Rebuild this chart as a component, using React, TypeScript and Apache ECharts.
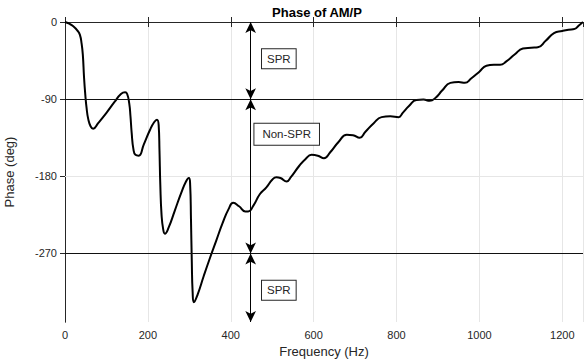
import React, { useEffect, useRef } from "react";
import * as echarts from "echarts";

// Curve (frequency in Hz, phase in degrees)
const freq = [
  0, 10, 20, 30, 36, 40, 43, 46, 49, 52, 56, 62, 68, 80, 100, 120, 135, 145, 150, 155,
  158, 161, 165, 170, 178, 190, 205, 215, 222, 226, 228, 230, 233, 237, 241, 250, 265, 280, 292, 299,
  302, 304, 306, 308, 311, 320, 335, 350, 365, 380, 395, 406, 420, 435, 442, 455, 470, 486, 500, 510,
  520, 535, 545, 565, 580, 595, 610, 625, 640, 660, 680, 695, 711, 725, 745, 764, 785, 805, 815, 830,
  848, 865, 880, 895, 910, 930, 950, 965, 980, 1000, 1017, 1035, 1050, 1065, 1085, 1105, 1125, 1141, 1160, 1180,
  1200, 1215, 1230, 1240, 1250,
];
const phase = [
  0, -2, -5, -10, -15, -25, -38, -65, -85, -100, -113, -122, -124.5, -118, -106, -93, -84, -82, -84, -95,
  -110, -130, -148, -155, -156, -143, -126, -117, -114, -120, -150, -190, -225, -242, -247, -240, -220, -200, -186, -182,
  -190, -230, -280, -315, -327, -318, -296, -275, -255, -235, -218, -211, -215, -221, -221, -214, -201, -193, -184, -181,
  -182, -186, -181, -168, -160, -155, -156, -159, -152, -140, -131.5, -132, -135, -128, -118, -111, -110, -111, -106, -98,
  -91, -90.5, -92, -88, -80, -71, -70, -71, -66, -58, -51, -50, -50, -46, -38, -31, -30, -29.5, -22, -13,
  -10.5, -9, -8, -4, 0,
];

const xTickInterval = 200;
const xMin = 0;
const xMax = 1250;
const yMin = -350;
const yMax = 0;
const yTicks = [0, -90, -180, -270];
const gridPhase = [-180];
const boundaryPhase = [-90, -270];

const arrowFreq = 448;
const arrowFrom = [0, -90, -270];
const arrowTo = [-90, -270, -350];

const boxTexts = ["SPR", "Non-SPR", "SPR"];
const boxFreq = [516, 535, 516];
const boxPhase = [-43, -131, -313];

const FONT = "'Liberation Sans', Arial, Helvetica, sans-serif";
const AX = "#262626";

export default function App() {
  const ref = useRef<HTMLDivElement>(null);

  useEffect(() => {
    if (!ref.current) return;
    const chart = echarts.init(ref.current, null, { renderer: "svg" });
    const data = freq.map((f, i) => [f, phase[i]]);

    const commonX = {
      type: "value" as const,
      min: xMin,
      max: xMax,
      interval: xTickInterval,
      axisLine: { show: true, lineStyle: { color: AX, width: 1 } },
      axisTick: { show: true, inside: true, length: 5, lineStyle: { color: AX } },
    };
    const commonY = {
      type: "value" as const,
      min: yMin,
      max: yMax,
      axisLine: { show: true, lineStyle: { color: AX, width: 1 } },
      axisTick: { show: true, inside: true, length: 5, customValues: yTicks, lineStyle: { color: AX } },
      splitLine: { show: false },
    };

    chart.setOption({
      animation: false,
      textStyle: { fontFamily: FONT },
      grid: {
        left: 65,
        top: 22,
        width: 518,
        height: 300,
        containLabel: false,
        outerBoundsMode: "none",
      },
      graphic: [
        {
          type: "text",
          x: 317,
          y: 12,
          style: {
            text: "Phase of AM/P",
            fontFamily: FONT,
            fontSize: 13,
            fontWeight: "bold",
            fill: "#000",
            textAlign: "center",
            textVerticalAlign: "middle",
          },
        },
      ],
      xAxis: [
        {
          ...commonX,
          position: "bottom",
          name: "Frequency (Hz)",
          nameLocation: "middle",
          nameGap: 23,
          nameTextStyle: { fontSize: 13, color: AX, fontFamily: FONT },
          axisLabel: {
            show: true,
            fontSize: 11,
            color: AX,
            margin: 7,
            fontFamily: FONT,
            formatter: (v: number) => String(v),
          },
          splitLine: { show: true, lineStyle: { color: "#e6e6e6", width: 1 } },
        },
        {
          ...commonX,
          position: "top",
          axisLabel: { show: false },
          splitLine: { show: false },
        },
      ],
      yAxis: [
        {
          ...commonY,
          position: "left",
          name: "Phase (deg)",
          nameLocation: "middle",
          nameGap: 49,
          nameTextStyle: { fontSize: 13, color: AX, fontFamily: FONT },
          axisLabel: {
            show: true,
            customValues: yTicks,
            fontSize: 11,
            color: AX,
            margin: 8,
            fontFamily: FONT,
            formatter: (v: number) => String(v),
          },
        },
        {
          ...commonY,
          position: "right",
          axisLabel: { show: false },
        },
      ],
      series: [
        {
          type: "line",
          data: [],
          silent: true,
          markLine: {
            z: 1,
            silent: true,
            symbol: ["none", "none"],
            label: { show: false },
            lineStyle: { color: "#e6e6e6", width: 1, type: "solid" },
            data: gridPhase.map((p) => ({ yAxis: p })),
          },
        },
        {
          type: "line",
          data,
          z: 3,
          smooth: 0.5,
          showSymbol: false,
          symbol: "none",
          silent: true,
          lineStyle: { color: "#000", width: 2 },
          markLine: {
            silent: true,
            animation: false,
            label: { show: false },
            symbol: ["none", "none"],
            data: [
              ...boundaryPhase.map((p) => ({
                yAxis: p,
                lineStyle: { color: "#111", width: 1.2, type: "solid" },
              })),
              ...arrowFrom.map((p, i) => [
                {
                  coord: [arrowFreq, p],
                  symbol: "arrow",
                  symbolSize: [8, 11],
                  lineStyle: { color: "#000", width: 1, type: "solid" },
                },
                { coord: [arrowFreq, arrowTo[i]], symbol: "arrow", symbolSize: [8, 11] },
              ]),
            ],
          },
          markPoint: {
            silent: true,
            symbol: "rect",
            symbolSize: 1,
            itemStyle: { color: "rgba(0,0,0,0)" },
            label: {
              show: true,
              position: "inside",
              formatter: (p: any) => p.name,
              fontFamily: FONT,
              fontSize: 11.5,
              color: AX,
              backgroundColor: "#fff",
              borderColor: AX,
              borderWidth: 1,
              padding: [4, 5, 3, 5],
            },
            data: boxTexts.map((t, i) => ({
              name: t,
              coord: [boxFreq[i], boxPhase[i]],
              label: t === "Non-SPR" ? { padding: [5, 8, 4, 8] } : {},
            })),
          },
        },
      ],
    });
    return () => chart.dispose();
  }, []);

  return (
    <div
      ref={ref}
      style={{ position: "absolute", left: 0, top: 0, width: 584, height: 362, background: "#fff" }}
    />
  );
}
